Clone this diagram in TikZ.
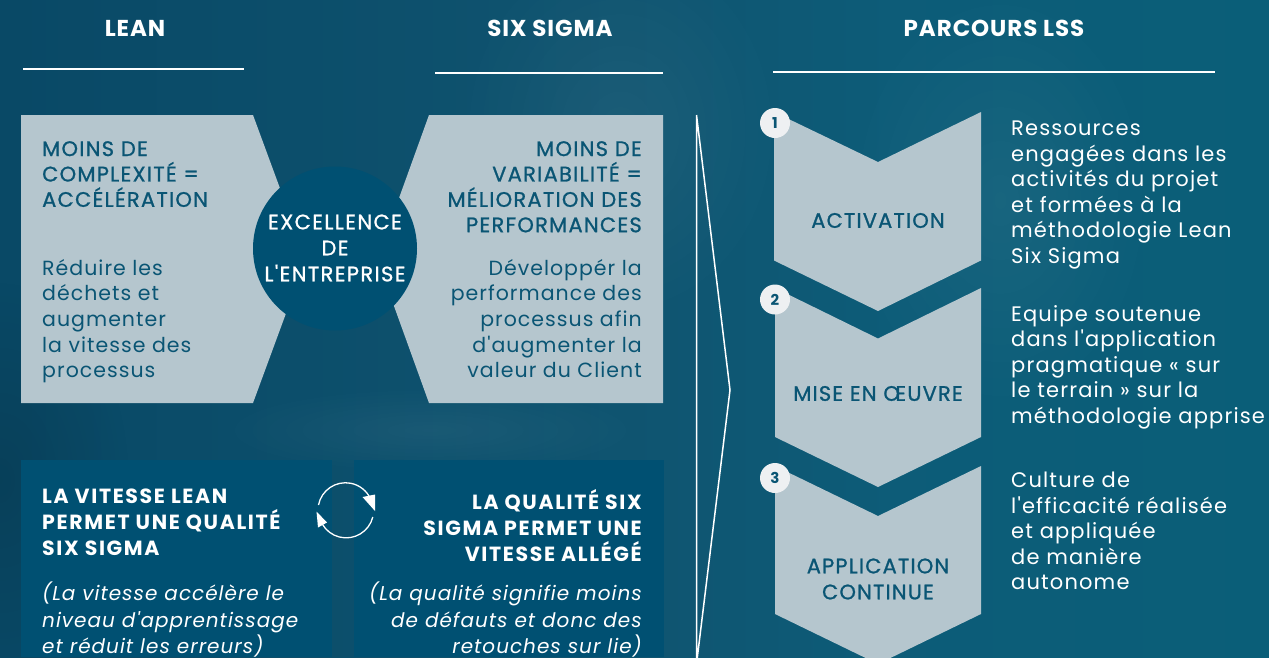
\documentclass[tikz,border=0pt]{standalone}
\usepackage{fontspec}
\usetikzlibrary{fadings}
\setmainfont{Poppins}
\newfontfamily\popf{Poppins}
\definecolor{panel}{HTML}{B5C6CE}
\definecolor{deep}{HTML}{005072}
\definecolor{ink}{HTML}{0A5574}
\definecolor{dot}{HTML}{EEF0F2}
\pgfdeclarehorizontalshading{bgteal}{100bp}{
 rgb(0bp)=(0.035,0.27,0.385);
 rgb(25bp)=(0.035,0.285,0.40);
 rgb(50bp)=(0.06,0.33,0.44);
 rgb(60bp)=(0.05,0.36,0.47);
 rgb(75bp)=(0.04,0.37,0.47);
 rgb(100bp)=(0.04,0.37,0.46)}
\tikzset{
 panelshape/.style={fill=panel,draw=none},
 deepbox/.style={fill=deep,draw=none},
 headline/.style={draw=white,line width=2pt},
 headtext/.style={font=\fontsize{23}{26}\selectfont\popf\bfseries\addfontfeature{LetterSpace=4},text=white,inner sep=0pt},
 paneltitle/.style={font=\fontsize{21}{25.4}\selectfont\popf\addfontfeature{FakeBold=1,LetterSpace=6},text=ink,inner sep=0pt},
 panelbody/.style={font=\fontsize{20.5}{25.6}\selectfont\popf\addfontfeature{LetterSpace=5},text=ink,inner sep=0pt},
 circletext/.style={font=\fontsize{21}{26}\selectfont\popf\addfontfeature{FakeBold=1,LetterSpace=6.5},text=white,inner sep=0pt,align=center},
 boxtitle/.style={font=\fontsize{20.5}{26}\selectfont\popf\bfseries\addfontfeature{LetterSpace=8},text=white,inner sep=0pt},
 boxbody/.style={font=\fontsize{20}{26.5}\selectfont\popf\itshape\addfontfeature{LetterSpace=5},text=white,inner sep=0pt},
 chevtext/.style={font=\fontsize{21}{26}\selectfont\popf\addfontfeature{FakeBold=1,LetterSpace=5.5},text=ink,inner sep=0pt,align=center},
 sidetext/.style={font=\fontsize{21}{25.5}\selectfont\popf\addfontfeature{LetterSpace=5.5},text=white,inner sep=0pt,align=left},
 numdot/.style={circle,fill=dot,draw=none,minimum size=30pt,inner sep=0pt,font=\fontsize{15}{15}\selectfont\popf\bfseries,text=ink},
 bright/.style={draw=white,line width=1.5pt,line join=miter},
 cyc/.style={draw=white,line width=1.3pt},
 glow/.style={fill=white,path fading=fade out,draw=none}
}
\tikzfading[name=fade out,inner color=transparent!0,outer color=transparent!100]
\begin{document}
\begin{tikzpicture}[x=1pt,y=-1pt]
\useasboundingbox (0,0) rectangle (1269,657);
\begin{scope}
\clip (0,0) rectangle (1269,657);
\shade[shading=bgteal] (0,0) rectangle (1269,657);
\fill[glow,fill opacity=.05] (620,130) ellipse (170 and 200);
\fill[glow,fill opacity=.05] (430,430) ellipse (220 and 45);
\fill[glow,fill opacity=.05] (1000,200) ellipse (160 and 220);
\fill[black,path fading=fade out,fill opacity=.12] (0,480) ellipse (130 and 200);

% top-left panels
\fill[panelshape] (21,115) -- (253,115) -- (306,259) -- (253,403) -- (21,403) -- cycle;
\fill[panelshape] (663,115) -- (429,115) -- (377,259) -- (429,403) -- (663,403) -- cycle;
\node[circle,fill=deep,minimum size=164pt,inner sep=0pt] (core) at (335,248.5) {};
\node[circletext] (coretext) at (335,248) {EXCELLENCE\\DE\\L'ENTREPRISE};

% headers
\node[headtext] (hlean) at (135,28) {LEAN};
\node[headtext] (hsix) at (550,28) {SIX SIGMA};
\node[headtext] (hpar) at (994,28) {PARCOURS LSS};
\draw[headline] (23,69) -- (244,69);
\draw[headline] (435,73) -- (663,73);
\draw[headline] (773,71.5) -- (1215,71.5);

% panel texts
\node[paneltitle,anchor=north west,align=left] (t1) at (42,141) {MOINS DE\\COMPLEXITÉ =\\ACCÉLÉRATION};
\node[panelbody,anchor=north west,align=left] (b1) at (42,259) {Réduire les\\déchets et\\augmenter\\la vitesse des\\processus};
\node[paneltitle,anchor=north east,align=right] (t2) at (642,141) {MOINS DE\\VARIABILITÉ =\\MÉLIORATION DES\\PERFORMANCES};
\node[panelbody,anchor=north east,align=right] (b2) at (642,259) {Développér la\\performance des\\processus afin\\d'augmenter la\\valeur du Client};

% lower boxes
\fill[deepbox] (21,460) rectangle (332,657);
\fill[deepbox] (354,460) rectangle (664,657);
\node[boxtitle,anchor=north west,align=left] (t3) at (42,489) {LA VITESSE LEAN\\PERMET UNE QUALITÉ\\SIX SIGMA};
\node[boxbody,anchor=north west,align=left] (b3) at (42,582) {(La vitesse accélère le\\niveau d'apprentissage\\et réduit les erreurs)};
\node[boxtitle,anchor=north east,align=right] (t4) at (642,489) {LA QUALITÉ SIX\\SIGMA PERMET UNE\\VITESSE ALLÉGÉ};
\node[boxbody,anchor=north east,align=right] (b4) at (642,582) {(La qualité signifie moins\\de défauts et donc des\\retouches sur lie)};

% cycle arrows
\coordinate (cyc) at (345.5,510.5);
\draw[cyc] (318.5,505) arc[start angle=191,end angle=335,radius=27.5] ;
\fill[white] (362.5,497) -- (375,494.5) -- (375,511) -- cycle;
\draw[cyc] (372.8,517) arc[start angle=14,end angle=150,radius=27.5] ;
\fill[white] (316.5,511.5) -- (327,522.5) -- (318,527.5) -- cycle;

% bracket
\draw[bright] (696.5,115) -- (730,390) -- (697,660) (696.5,115) -- (696.5,660);

% chevrons
\fill[panelshape] (774,112) -- (878,162) -- (981,112) -- (981,260.5) -- (878,311) -- (774,260.5) -- cycle;
\fill[panelshape] (775,288) -- (878,338.5) -- (981,288) -- (981,437) -- (878,487) -- (775,437) -- cycle;
\fill[panelshape] (775,466) -- (878,516) -- (981,466) -- (981,614) -- (878,664) -- (775,614) -- cycle;
\node[numdot] (n1) at (775,123) {1};
\node[numdot] (n2) at (775,299.5) {2};
\node[numdot] (n3) at (775,478) {3};
\node[chevtext] (c1) at (878,220.5) {ACTIVATION};
\node[chevtext] (c2) at (878,393.5) {MISE EN ŒUVRE};
\node[chevtext] (c3) at (878,579) {APPLICATION\\CONTINUE};

% side text
\node[sidetext,anchor=north west] (s1) at (1011,121) {Ressources\\engagées dans les\\activités du projet\\et formées à la\\méthodologie Lean\\Six Sigma};
\node[sidetext,anchor=north west] (s2) at (1011,305) {Equipe soutenue\\dans l'application\\pragmatique « sur\\le terrain » sur la\\méthodologie apprise};
\node[sidetext,anchor=north west] (s3) at (1011,472) {Culture de\\l'efficacité réalisée\\et appliquée\\de manière\\autonome};
\end{scope}
\end{tikzpicture}
\end{document}
